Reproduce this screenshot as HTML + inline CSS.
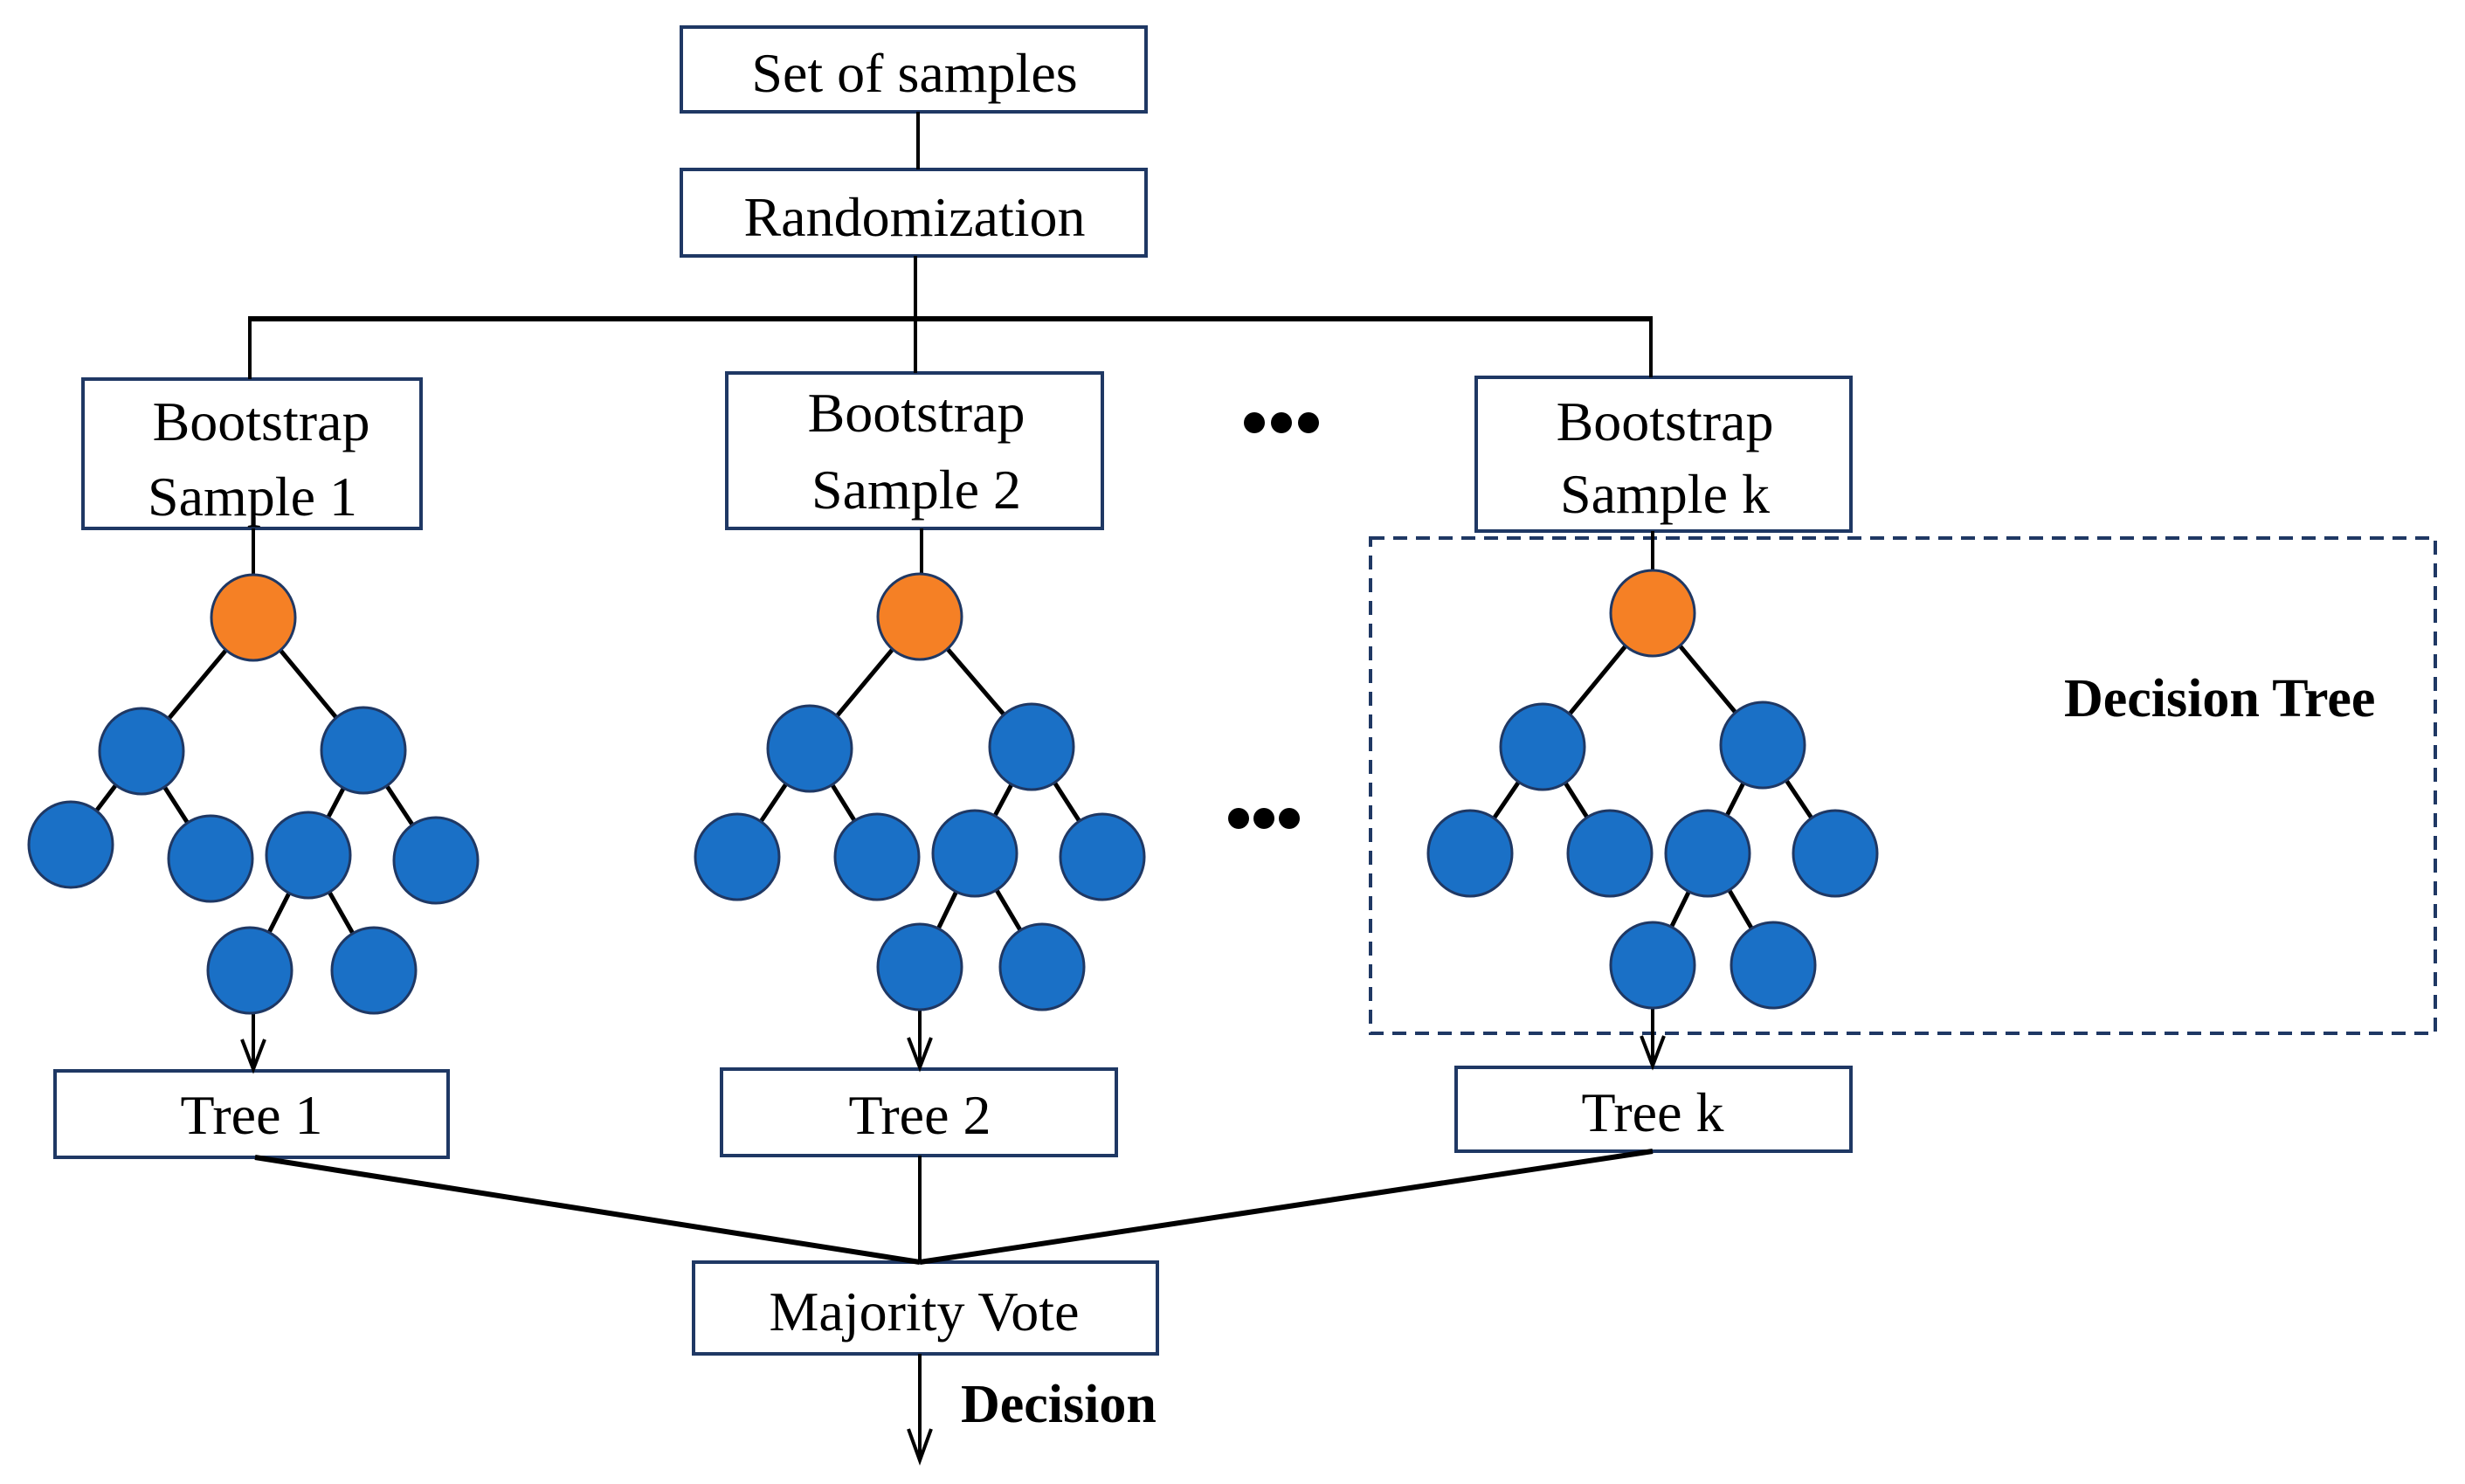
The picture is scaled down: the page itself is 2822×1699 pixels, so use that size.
<!DOCTYPE html>
<html><head><meta charset="utf-8"><style>
html,body{margin:0;padding:0;background:#fff;}
svg{display:block;}
text{font-family:"Liberation Serif","Times New Roman",serif;fill:#000;}
</style></head><body>
<svg width="2822" height="1699" viewBox="0 0 2822 1699" xmlns="http://www.w3.org/2000/svg">
<g fill="#fff" stroke="#1f3864" stroke-width="4">
<rect x="780" y="31" width="532" height="97"/>
<rect x="780" y="194" width="532" height="99"/>
<rect x="95" y="434" width="387" height="171"/>
<rect x="832" y="427" width="430" height="178"/>
<rect x="1690" y="432" width="429" height="176"/>
<rect x="63" y="1226" width="450" height="99"/>
<rect x="826" y="1224" width="452" height="99"/>
<rect x="1667" y="1222" width="452" height="96"/>
<rect x="794" y="1445" width="531" height="105"/>
</g>
<rect x="1569" y="616" width="1219" height="567" fill="none" stroke="#1f3864" stroke-width="4" stroke-dasharray="16,10"/>
<g stroke="#000" stroke-width="4" fill="none">
<line x1="1051" y1="128" x2="1051" y2="194"/>
<line x1="1048" y1="293" x2="1048" y2="427"/>
<line x1="284" y1="365" x2="1892" y2="365" stroke-width="6"/>
<line x1="286" y1="365" x2="286" y2="434"/>
<line x1="1890" y1="365" x2="1890" y2="432"/>
<line x1="290" y1="605" x2="290" y2="707"/>
<line x1="1055" y1="605" x2="1055" y2="706"/>
<line x1="1892" y1="608" x2="1892" y2="702"/>
<g stroke-width="5">
<path d="M290 707L162 860M290 707L416 859M162 860L81 967M162 860L241 983M416 859L353 979M416 859L499 985M353 979L286 1111M353 979L428 1111"/>
<path d="M1053 706L927 857M1053 706L1181 855M927 857L844 981M927 857L1004 981M1181 855L1116 977M1181 855L1262 981M1116 977L1053 1107M1116 977L1193 1107"/>
<path d="M1892 702L1766 855M1892 702L2018 853M1766 855L1683 977M1766 855L1843 977M2018 853L1955 977M2018 853L2101 977M1955 977L1892 1105M1955 977L2030 1105"/>
</g>
<path d="M290 1159V1224M277 1190L290 1224L303 1190"/>
<path d="M1053 1155V1222M1040 1188L1053 1222L1066 1188"/>
<path d="M1892 1153V1220M1879 1186L1892 1220L1905 1186"/>
<path d="M292 1325L1053 1445M1892 1318L1053 1445" stroke-width="6"/>
<line x1="1053" y1="1323" x2="1053" y2="1445"/>
<path d="M1053 1550V1672M1040 1636L1053 1672L1066 1636"/>
</g>
<g stroke="#1f3864" stroke-width="3">
<g fill="#f58025">
<ellipse cx="290" cy="707" rx="48" ry="49"/>
<ellipse cx="1053" cy="706" rx="48" ry="49"/>
<ellipse cx="1892" cy="702" rx="48" ry="49"/>
</g>
<g fill="#1a70c6">
<ellipse cx="162" cy="860" rx="48" ry="49"/><ellipse cx="416" cy="859" rx="48" ry="49"/>
<ellipse cx="81" cy="967" rx="48" ry="49"/><ellipse cx="241" cy="983" rx="48" ry="49"/>
<ellipse cx="353" cy="979" rx="48" ry="49"/><ellipse cx="499" cy="985" rx="48" ry="49"/>
<ellipse cx="286" cy="1111" rx="48" ry="49"/><ellipse cx="428" cy="1111" rx="48" ry="49"/>
<ellipse cx="927" cy="857" rx="48" ry="49"/><ellipse cx="1181" cy="855" rx="48" ry="49"/>
<ellipse cx="844" cy="981" rx="48" ry="49"/><ellipse cx="1004" cy="981" rx="48" ry="49"/>
<ellipse cx="1116" cy="977" rx="48" ry="49"/><ellipse cx="1262" cy="981" rx="48" ry="49"/>
<ellipse cx="1053" cy="1107" rx="48" ry="49"/><ellipse cx="1193" cy="1107" rx="48" ry="49"/>
<ellipse cx="1766" cy="855" rx="48" ry="49"/><ellipse cx="2018" cy="853" rx="48" ry="49"/>
<ellipse cx="1683" cy="977" rx="48" ry="49"/><ellipse cx="1843" cy="977" rx="48" ry="49"/>
<ellipse cx="1955" cy="977" rx="48" ry="49"/><ellipse cx="2101" cy="977" rx="48" ry="49"/>
<ellipse cx="1892" cy="1105" rx="48" ry="49"/><ellipse cx="2030" cy="1105" rx="48" ry="49"/>
</g>
</g>
<g fill="#000">
<circle cx="1436" cy="484" r="12"/><circle cx="1467" cy="484" r="12"/><circle cx="1498" cy="484" r="12"/>
<circle cx="1418" cy="937" r="12"/><circle cx="1447" cy="937" r="12"/><circle cx="1476" cy="937" r="12"/>
</g>
<g font-size="64" text-anchor="middle">
<text x="1047" y="105">Set of samples</text>
<text x="1047" y="270">Randomization</text>
<text x="299" y="504">Bootstrap</text>
<text x="289" y="590">Sample 1</text>
<text x="1049" y="494">Bootstrap</text>
<text x="1049" y="582">Sample 2</text>
<text x="1906" y="504">Bootstrap</text>
<text x="1906" y="587">Sample k</text>
<text x="288" y="1298">Tree 1</text>
<text x="1053" y="1298">Tree 2</text>
<text x="1892" y="1295">Tree k</text>
<text x="1058" y="1523">Majority Vote</text>
</g>
<g font-size="62" font-weight="bold">
<text x="2363" y="820">Decision Tree</text>
<text x="1100" y="1628">Decision</text>
</g>
</svg>
</body></html>
